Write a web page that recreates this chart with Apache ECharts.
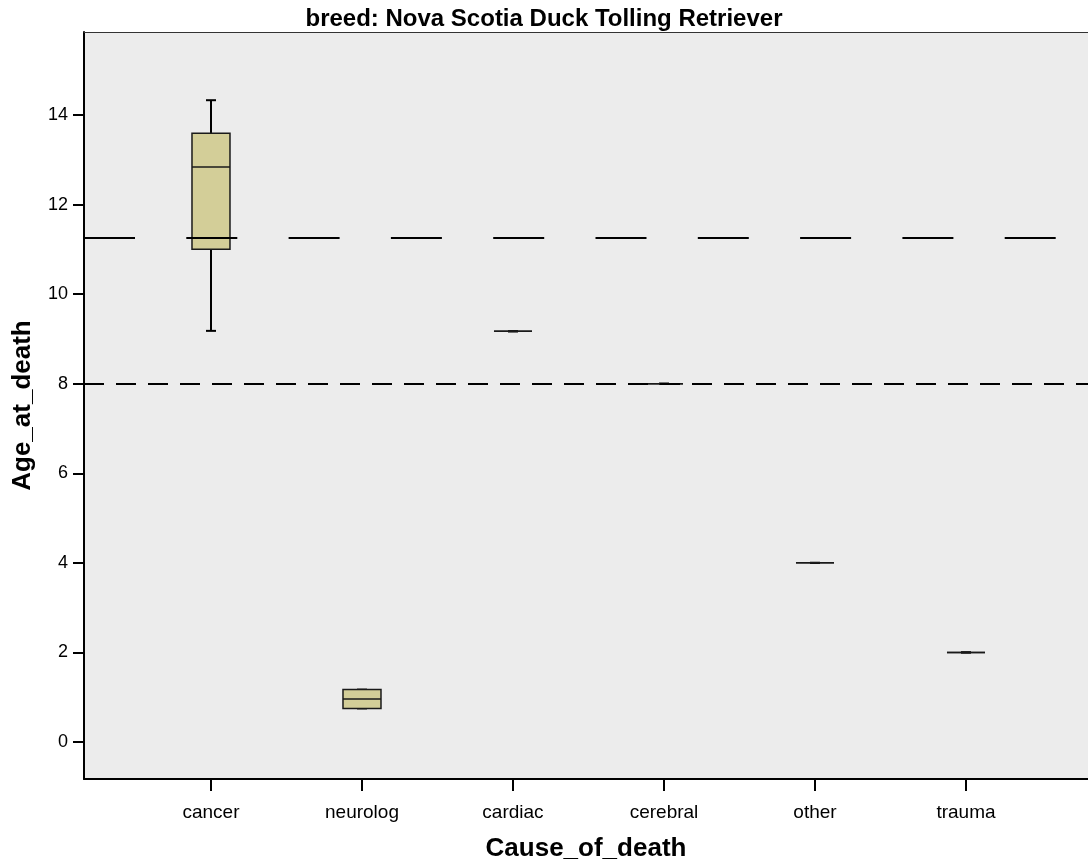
<!DOCTYPE html>
<html>
<head>
<meta charset="utf-8">
<script src="https://cdn.jsdelivr.net/npm/echarts@6/dist/echarts.min.js"></script>
<style>
html,body{margin:0;padding:0;background:#fff;}
#chart{width:1088px;height:861px;}
</style>
</head>
<body>
<div id="chart"></div>
<script>
// ---- data ----
var categories = ['cancer', 'neurolog', 'cardiac', 'cerebral', 'other', 'trauma'];
// [min, q1, median, q3, max]
var boxMin    = [9.18, 0.75, 9.17, 8.0, 4.0, 2.0];
var boxQ1     = [11.0, 0.75, 9.17, 8.0, 4.0, 2.0];
var boxMedian = [12.84, 0.96, 9.17, 8.0, 4.0, 2.0];
var boxQ3     = [13.59, 1.17, 9.17, 8.0, 4.0, 2.0];
var boxMax    = [14.33, 1.17, 9.17, 8.0, 4.0, 2.0];
var yTickValues = [0, 2, 4, 6, 8, 10, 12, 14];
var meanLine = 11.25;
var refLine = 8;

var seriesData = categories.map(function (c, i) {
  return [i, boxMin[i], boxQ1[i], boxMedian[i], boxQ3[i], boxMax[i]];
});

var FONT = 'Liberation Sans, Arial, sans-serif';
var chart = echarts.init(document.getElementById('chart'));

function renderBox(params, api) {
  var x = api.value(0);
  var pMin = api.coord([x, api.value(1)]);
  var pQ1 = api.coord([x, api.value(2)]);
  var pMed = api.coord([x, api.value(3)]);
  var pQ3 = api.coord([x, api.value(4)]);
  var pMax = api.coord([x, api.value(5)]);
  var cx = pMed[0];
  var halfW = 19;
  var capW = 5;
  var lineS = { stroke: '#000', lineWidth: 2 };
  return {
    type: 'group',
    children: [
      { type: 'line', shape: { x1: cx, y1: pMax[1], x2: cx, y2: pQ3[1] }, style: lineS },
      { type: 'line', shape: { x1: cx, y1: pQ1[1], x2: cx, y2: pMin[1] }, style: lineS },
      { type: 'line', shape: { x1: cx - capW, y1: pMax[1], x2: cx + capW, y2: pMax[1] }, style: lineS },
      { type: 'line', shape: { x1: cx - capW, y1: pMin[1], x2: cx + capW, y2: pMin[1] }, style: lineS },
      { type: 'rect', shape: { x: cx - halfW, y: pQ3[1], width: halfW * 2, height: pQ1[1] - pQ3[1] },
        style: { fill: '#d3ce98', stroke: '#1a1a1a', lineWidth: 1.5 } },
      { type: 'line', shape: { x1: cx - halfW, y1: pMed[1], x2: cx + halfW, y2: pMed[1] },
        style: { stroke: '#1a1a1a', lineWidth: 1.5 } }
    ]
  };
}

var option = {
  animation: false,
  backgroundColor: '#ffffff',
  title: {
    text: 'breed: Nova Scotia Duck Tolling Retriever',
    left: 'center',
    top: 2,
    textStyle: { fontFamily: FONT, fontWeight: 'bold', fontSize: 24, color: '#000' }
  },
  grid: {
    left: 84, right: 0, top: 32, bottom: 82,
    containLabel: false,
    outerBoundsMode: 'none',
    show: true, backgroundColor: '#ececec', borderWidth: 0
  },
  xAxis: [{
    type: 'value',
    min: -0.841, max: 5.808,
    name: 'Cause_of_death',
    nameLocation: 'middle',
    nameGap: 57,
    nameTextStyle: { fontFamily: FONT, fontWeight: 'bold', fontSize: 26, color: '#000' },
    splitLine: { show: false },
    axisLine: { show: true, onZero: false, lineStyle: { color: '#000', width: 2 } },
    axisTick: { show: true, customValues: [0, 1, 2, 3, 4, 5], length: 12, lineStyle: { color: '#000', width: 2 } },
    axisLabel: {
      show: true, customValues: [0, 1, 2, 3, 4, 5], margin: 24,
      formatter: function (v) { return categories[Math.round(v)]; },
      fontFamily: FONT, fontSize: 19, color: '#000'
    }
  }, {
    type: 'value',
    position: 'top',
    min: -0.841, max: 5.808,
    splitLine: { show: false },
    axisLine: { show: true, onZero: false, lineStyle: { color: '#333', width: 1 } },
    axisTick: { show: false },
    axisLabel: { show: false }
  }],
  yAxis: {
    type: 'value',
    min: -0.826, max: 15.853,
    name: 'Age_at_death',
    nameLocation: 'middle',
    nameGap: 48,
    nameTextStyle: { fontFamily: FONT, fontWeight: 'bold', fontSize: 26, color: '#000' },
    splitLine: { show: false },
    axisLine: { show: true, onZero: false, lineStyle: { color: '#000', width: 2 } },
    axisTick: { show: true, customValues: yTickValues, length: 11, lineStyle: { color: '#000', width: 2 } },
    axisLabel: {
      show: true, customValues: yTickValues, margin: 16,
      fontFamily: FONT, fontSize: 18, color: '#000'
    }
  },
  series: [{
    type: 'custom',
    xAxisIndex: 0,
    yAxisIndex: 0,
    renderItem: renderBox,
    encode: { x: 0, y: [1, 2, 3, 4, 5] },
    data: seriesData,
    silent: true,
    markLine: {
      silent: true,
      symbol: 'none',
      label: { show: false },
      data: [
        { yAxis: meanLine, lineStyle: { color: '#000', width: 2, type: [51, 51.3] } },
        { yAxis: refLine, lineStyle: { color: '#000', width: 2, type: [20, 12] } }
      ]
    }
  }]
};
chart.setOption(option);
</script>
</body>
</html>
